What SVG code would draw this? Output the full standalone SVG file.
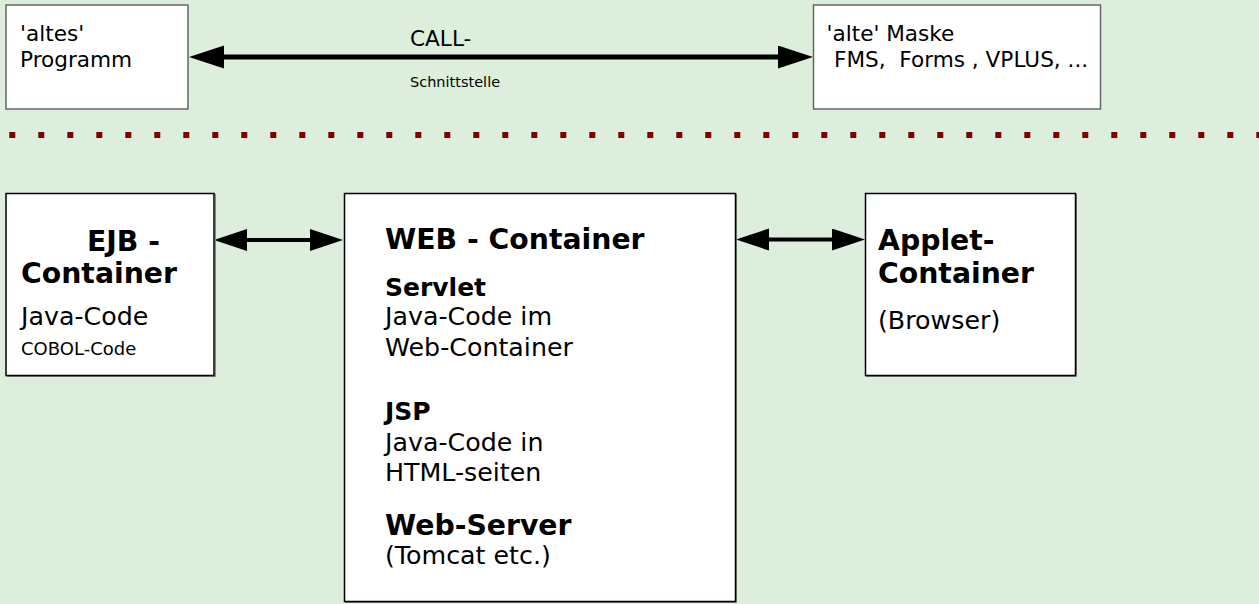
<svg xmlns="http://www.w3.org/2000/svg" width="1259" height="604" viewBox="0 0 1259 604">
  <style>
    text { font-family: "DejaVu Sans", "Liberation Sans", sans-serif; fill: #000; }
    .r { font-size: 21.6px; }
    .sm { font-size: 14.5px; }
    .body { font-size: 25.3px; }
    .small { font-size: 18px; }
    .b28 { font-size: 28.3px; font-weight: bold; }
    .b25 { font-size: 25px; font-weight: bold; }
    .top { fill: #fff; stroke: #666; stroke-width: 1.5; }
    .box { fill: #fff; stroke: #000; stroke-width: 1.5; }
    .shadow { fill: none; stroke: #888; stroke-width: 1; }
    .conn { stroke: #000; fill: none; }
  </style>
  <defs>
    <marker id="headBig" markerUnits="userSpaceOnUse" markerWidth="36" markerHeight="24" refX="0" refY="11.5" orient="auto-start-reverse" viewBox="0 0 36 24">
      <path d="M0,0 L35,11.5 L0,23 z" fill="#000"/>
    </marker>
    <marker id="headSmall" markerUnits="userSpaceOnUse" markerWidth="34" markerHeight="24" refX="0" refY="11" orient="auto-start-reverse" viewBox="0 0 34 24">
      <path d="M0,0 L33,11 L0,22 z" fill="#000"/>
    </marker>
  </defs>

  <rect x="0" y="0" width="1259" height="604" fill="#ddeedc"/>

  <line x1="9.3" y1="135" x2="1259" y2="135" stroke="#800000" stroke-width="6" stroke-dasharray="6 23"/>

  <g id="connectors">
    <path class="conn" d="M224,57 L778,57" stroke-width="5" marker-start="url(#headBig)" marker-end="url(#headBig)"/>
    <path class="conn" d="M247,240 L310,240" stroke-width="4" marker-start="url(#headSmall)" marker-end="url(#headSmall)"/>
    <path class="conn" d="M769,239.5 L832,239.5" stroke-width="4" marker-start="url(#headSmall)" marker-end="url(#headSmall)"/>
    <text class="r" x="410" y="45.5">CALL-</text>
    <text class="sm" x="410" y="87">Schnittstelle</text>
  </g>

  <g id="node-altes-programm">
    <rect class="top" x="6" y="5" width="182" height="104"/>
    <text class="r" x="20" y="41">'altes'</text>
    <text class="r" x="20" y="67">Programm</text>
  </g>

  <g id="node-alte-maske">
    <rect class="top" x="813.5" y="5" width="287" height="104"/>
    <text class="r" x="826.5" y="41">'alte' Maske</text>
    <text class="r" x="834" y="67" xml:space="preserve">FMS,  Forms , VPLUS, ...</text>
  </g>

  <g id="node-ejb">
    <path class="shadow" d="M7,376.5 L215.5,376.5 L215.5,194"/>
    <rect class="box" x="6" y="193.5" width="208" height="182"/>
    <text class="b28" x="87" y="251">EJB -</text>
    <text class="b28" x="21" y="283">Container</text>
    <text class="body" x="21" y="325">Java-Code</text>
    <text class="small" x="21" y="355">COBOL-Code</text>
  </g>

  <g id="node-web">
    <path class="shadow" d="M345,602.5 L736.5,602.5 L736.5,194"/>
    <rect class="box" x="344.5" y="193.5" width="391" height="408"/>
    <text class="b28" x="385" y="249">WEB - Container</text>
    <text class="b25" x="385" y="296">Servlet</text>
    <text class="body" x="385" y="325">Java-Code im</text>
    <text class="body" x="385" y="356">Web-Container</text>
    <text class="b25" x="385" y="420">JSP</text>
    <text class="body" x="385" y="451">Java-Code in</text>
    <text class="body" x="385" y="481">HTML-seiten</text>
    <text class="b28" x="385" y="535">Web-Server</text>
    <text class="body" x="385" y="564">(Tomcat etc.)</text>
  </g>

  <g id="node-applet">
    <path class="shadow" d="M866,376.5 L1076.5,376.5 L1076.5,194"/>
    <rect class="box" x="865.5" y="193.5" width="210" height="182"/>
    <text class="b28" x="878" y="250">Applet-</text>
    <text class="b28" x="878" y="283">Container</text>
    <text class="body" x="878" y="329">(Browser)</text>
  </g>
</svg>
